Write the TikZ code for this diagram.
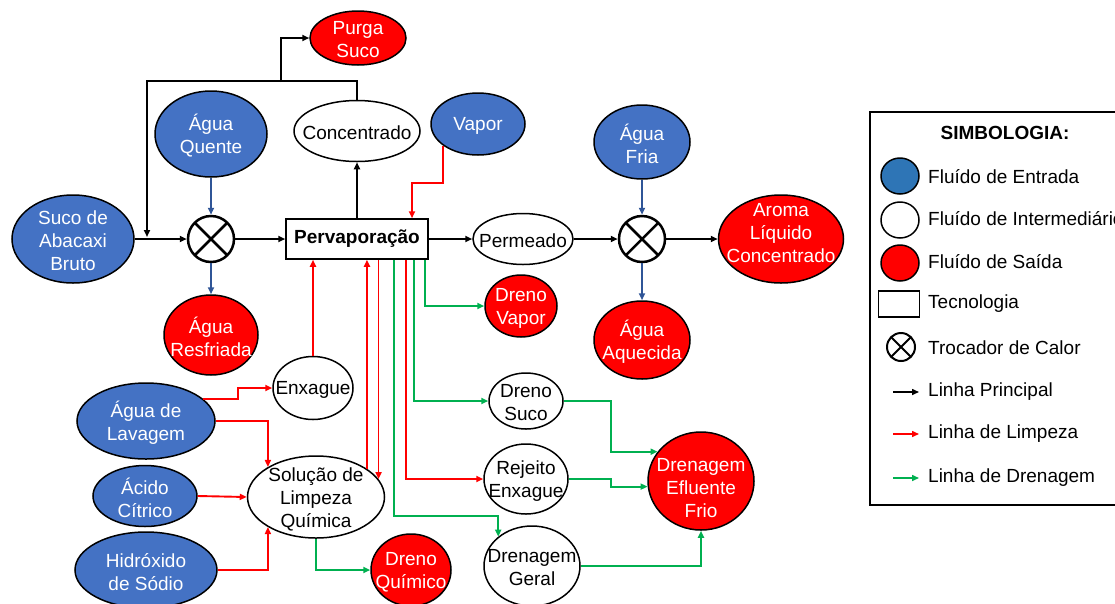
\documentclass[tikz,border=0pt]{standalone}
\usepackage{fontspec}
\setmainfont{Liberation Sans}
\usetikzlibrary{shapes.geometric,arrows.meta}

\definecolor{azul}{HTML}{4472C4}
\definecolor{azulleg}{HTML}{2E75B6}
\definecolor{azullinha}{HTML}{2F5597}
\definecolor{verde}{HTML}{00B050}
\definecolor{vermelho}{HTML}{FF0000}

\tikzset{
  fluido/.style={ellipse, draw, line width=1.5pt, inner sep=0pt},
  entrada/.style={fluido, fill=azul},
  inter/.style={fluido, fill=white},
  saida/.style={fluido, fill=vermelho},
  tb/.style={text=white, align=center, yshift=-2},
  tp/.style={text=black, align=center, yshift=-2},
  troc/.style={circle, draw, line width=#1, inner sep=0pt, fill=white,
    path picture={\draw[line width=#1] (path picture bounding box.north west) -- (path picture bounding box.south east)
      (path picture bounding box.north east) -- (path picture bounding box.south west);}},
  principal/.style={draw=black, line width=2pt},
  limpeza/.style={draw=vermelho, line width=1.9pt},
  drenagem/.style={draw=verde, line width=1.9pt},
  agua/.style={draw=azullinha, line width=1.9pt},
  leg/.style={anchor=west, inner sep=0pt}
}

\begin{document}
\begin{tikzpicture}[x=1pt, y=-1pt, font=\fontsize{19}{23}\selectfont, >={Triangle[length=7pt,width=6pt]}]
\useasboundingbox (0,0) rectangle (1115,603);

\node[entrada, minimum width=122, minimum height=88, label={[tb]center:Suco de\\Abacaxi\\Bruto}] (SU) at (73,239) {};
\node[entrada, minimum width=112, minimum height=86, label={[tb]center:Água\\Quente}] (AQ) at (211,134) {};
\node[troc=2.5pt, minimum size=46] (T1) at (211,239) {};
\node[saida, minimum width=94, minimum height=80, label={[tb]center:Água\\Resfriada}] (AR) at (211,335) {};
\node[draw, line width=1.5pt, minimum width=142, minimum height=40, inner sep=0pt, font=\fontsize{19}{23}\selectfont\bfseries] (PV) at (357,239) {Pervaporação};
\node[inter, minimum width=126, minimum height=61, label={[tp]center:Concentrado}] (CO) at (357,131) {};
\node[saida, minimum width=96, minimum height=54, label={[tb]center:Purga\\Suco}] (PS) at (358,38) {};
\node[entrada, minimum width=94, minimum height=62, label={[tb]center:Vapor}] (VA) at (478,124) {};
\node[inter, minimum width=100, minimum height=51, label={[tp]center:Permeado}] (PE) at (523,239) {};
\node[troc=2.5pt, minimum size=46] (T2) at (642,239) {};
\node[entrada, minimum width=96, minimum height=74, label={[tb]center:Água\\Fria}] (AF) at (642,142) {};
\node[saida, minimum width=125, minimum height=88, label={[tb,yshift=8]center:Aroma\\Líquido\\Concentrado}] (AL) at (781,239) {};
\node[saida, minimum width=96, minimum height=78, label={[tb]center:Água\\Aquecida}] (AA) at (642,340) {};
\node[saida, minimum width=72, minimum height=62, label={[tb]center:Dreno\\Vapor}] (DV) at (521,306) {};
\node[inter, minimum width=74, minimum height=56, label={[tp]center:Dreno\\Suco}] (DS) at (526,401) {};
\node[inter, minimum width=84, minimum height=70, label={[tp]center:Rejeito\\Enxague}] (RE) at (526,479) {};
\node[inter, minimum width=96, minimum height=80, label={[tp]center:Drenagem\\Geral}] (DG) at (532,566) {};
\node[saida, minimum width=106, minimum height=98, label={[tb,yshift=-5]center:Drenagem\\Efluente\\Frio}] (DE) at (701,481) {};
\node[entrada, minimum width=138, minimum height=76, label={[tb]center:Água de\\Lavagem}] (LA) at (146,421) {};
\node[inter, minimum width=80, minimum height=63, label={[tp]center:Enxague}] (EN) at (313,388) {};
\node[inter, minimum width=137, minimum height=82, label={[tp]center:Solução de\\Limpeza\\Química}] (SL) at (316,497) {};
\node[entrada, minimum width=104, minimum height=61, label={[tb]center:Ácido\\Cítrico}] (AC) at (145,496) {};
\node[entrada, minimum width=142, minimum height=76, label={[tb]center:Hidróxido\\de Sódio}] (HS) at (146,570) {};
\node[saida, minimum width=80, minimum height=72, label={[tb]center:Dreno\\Químico}] (DQ) at (411,570) {};

\coordinate (J) at (147,237);
\coordinate (R) at (281,82);

\draw[principal,->] (SU.east) -- (T1.west);
\draw[principal,->] (CO.north) -- ++(0,-19) -| (J);
\draw[principal,->] (R) |- (PS.west);
\draw[principal,->] (T1.east) -- (PV.west);
\draw[principal,->] (PV.north) -- (CO.south);
\draw[principal,->] (PV.east) -- (PE.west);
\draw[principal,->] (PE.east) -- (T2.west);
\draw[principal,->] (T2.east) -- (AL.west);

\draw[agua,->] (AQ.south) -- (T1.north);
\draw[agua,->] (T1.south) -- (AR.north);
\draw[agua,->] (AF.south) -- (T2.north);
\draw[agua,->] (T2.south) -- (AA.north);

\draw[limpeza,->] (VA.212) -- ++(0,37) -| ([xshift=55]PV.north);
\draw[limpeza,->] (LA.21) -| ([xshift=-34]EN.west) -- (EN.west);
\draw[limpeza,->] (LA.east) -| (SL.148);
\draw[limpeza,->] (AC.east) -- (SL.west);
\draw[limpeza,->] (HS.east) -| (SL.212);
\draw[limpeza,->] (EN.north) -- (EN.north |- PV.south);
\draw[limpeza,->] (SL.29) -- (SL.29 |- PV.south);
\draw[limpeza,->] (SL.16 |- PV.south) -- (SL.16);
\draw[limpeza,->] ([xshift=49]PV.south) |- (RE.west);

\draw[drenagem,->] ([xshift=68]PV.south) |- (DV.west);
\draw[drenagem,->] ([xshift=57]PV.south) |- (DS.west);
\draw[drenagem,->] ([xshift=37]PV.south) -- ++(0,256) -| (DG.139);
\draw[drenagem,->] (SL.south) |- (DQ.west);
\draw[drenagem,->] (DS.east) -| ([xshift=-47]DE.146) -- (DE.146);
\draw[drenagem,->] (RE.east) -| ([xshift=-37]DE.186) -- (DE.186);
\draw[drenagem,->] (DG.east) -| (DE.south);

\draw[line width=1.5pt] (870,112) rectangle (1140,505);
\node[font=\fontsize{19}{23}\selectfont\bfseries] (ST) at (1005,133) {SIMBOLOGIA:};
\node[fluido, fill=azulleg, minimum width=38, minimum height=36] (LE) at (900,176) {};
\node[inter, minimum width=38, minimum height=36] (LI) at (900,220) {};
\node[saida, minimum width=38, minimum height=36] (LS) at (900,263) {};
\node[draw, line width=1.5pt, minimum width=41, minimum height=26, inner sep=0pt] (LT) at (899,304) {};
\node[troc=2pt, minimum size=28] (LC) at (901,347) {};
\node[leg] (TE) at (928,177) {Fluído de Entrada};
\node[leg] (TI) at (928,219) {Fluído de Intermediário};
\node[leg] (TS) at (928,262) {Fluído de Saída};
\node[leg] (TT) at (928,304) {Tecnologia};
\node[leg] (TC) at (928,348) {Trocador de Calor};
\node[leg] (LP) at (928,392) {Linha Principal};
\node[leg] (LL) at (928,434) {Linha de Limpeza};
\node[leg] (LD) at (928,478) {Linha de Drenagem};
\draw[principal,line width=1.5pt,->] ([xshift=-35]LP.west) -- ([xshift=-9]LP.west);
\draw[limpeza,line width=1.5pt,->] ([xshift=-35]LL.west) -- ([xshift=-9]LL.west);
\draw[drenagem,line width=1.5pt,->] ([xshift=-35]LD.west) -- ([xshift=-9]LD.west);
\end{tikzpicture}
\end{document}
